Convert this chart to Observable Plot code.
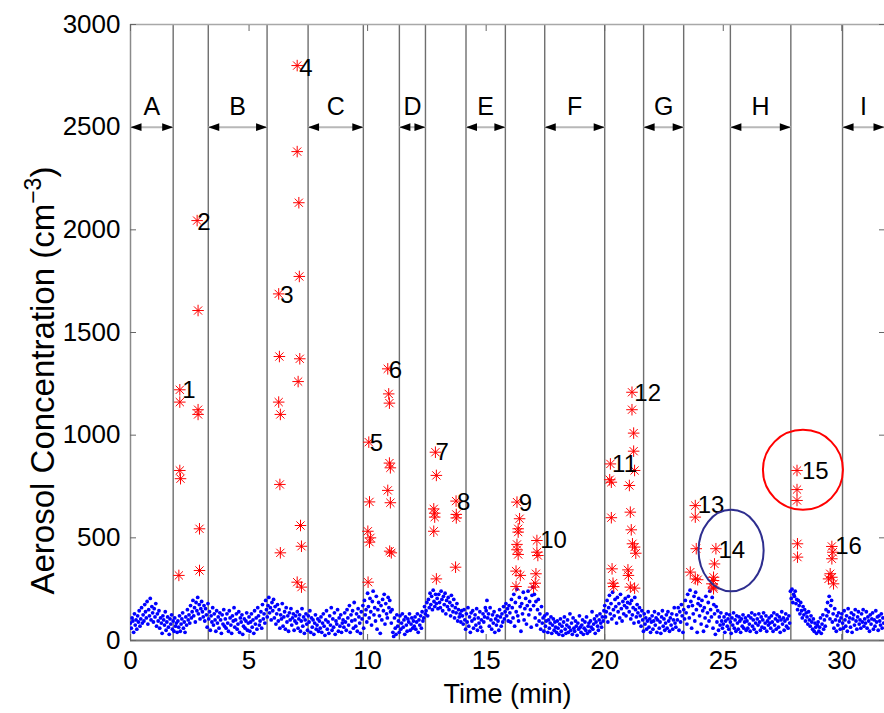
<!DOCTYPE html>
<html>
<head>
<meta charset="utf-8">
<script src="https://cdn.jsdelivr.net/npm/d3@7"></script>
<script src="https://cdn.jsdelivr.net/npm/@observablehq/plot@0.6"></script>
<style>
  html, body { margin: 0; padding: 0; background: #fff; }
  #chart { width: 884px; height: 713px; overflow: hidden; }
</style>
</head>
<body>
<div id="chart"></div>
<script>
// Background aerosol concentration, one reading every 2 s (30 per minute), cm^-3
const sampleStepMin = 2 / 60;
const blueConc = [
  85,60,110,95,40,130,75,100,55,120,90,145,70,105,160,85,125,95,175,140,110,190,80,150,120,205,100,165,135,90,
  155,115,180,70,130,95,145,60,110,85,35,120,100,75,140,50,90,115,65,30,105,80,125,55,95,45,110,70,85,40,
  95,65,120,45,80,105,135,60,90,40,115,75,150,100,125,85,170,110,140,195,120,160,90,185,145,210,130,175,105,155,
  190,140,115,170,95,155,125,65,180,105,140,50,120,90,160,75,130,100,45,145,85,115,60,135,100,35,125,80,150,70,
  105,60,130,85,45,145,110,75,35,120,95,160,65,100,130,55,80,140,40,110,90,125,30,70,105,60,95,135,50,85,
  115,45,90,130,65,100,35,145,80,110,55,160,120,75,95,140,60,175,105,130,85,195,150,115,170,210,135,160,100,185,
  145,200,110,165,80,130,175,95,150,60,125,105,180,70,115,140,55,160,90,120,45,135,100,155,75,110,130,50,95,120,
  85,140,60,105,125,45,95,155,70,115,35,100,130,80,50,120,90,145,40,110,65,100,30,85,125,55,75,105,45,95,
  60,115,40,85,130,70,25,100,145,55,90,35,120,75,160,50,105,65,135,30,95,80,150,45,110,70,125,40,85,100,
  65,135,90,50,150,110,75,170,40,125,95,145,60,185,100,70,130,45,155,115,85,35,140,105,170,60,195,125,150,90,
  230,165,110,205,140,75,190,240,125,160,95,215,55,150,185,120,35,170,100,200,145,225,80,180,130,110,210,160,195,140,
  85,150,40,20,110,60,30,125,70,95,40,120,55,85,130,65,100,30,115,75,45,105,90,130,50,80,110,60,95,70,
  115,55,90,130,40,100,75,120,60,140,95,110,165,130,145,185,120,200,160,230,175,215,150,245,190,165,225,180,205,155,
  225,185,160,240,200,145,215,175,230,130,195,165,210,150,185,120,220,170,140,200,110,160,135,180,95,150,115,130,90,145,
  120,80,150,100,55,130,90,160,70,115,40,135,95,145,60,105,125,75,155,50,110,85,140,65,100,45,130,90,115,160,
  145,195,110,130,70,160,100,55,125,85,140,40,105,75,120,95,50,150,115,70,130,90,165,105,140,180,120,155,95,170,
  135,90,200,160,110,225,70,185,140,250,120,95,210,165,45,180,130,235,100,155,205,80,170,240,125,190,150,65,220,260,
  170,225,110,190,75,150,200,95,130,55,165,85,110,45,120,70,95,130,40,100,60,85,115,35,75,105,50,90,65,40,
  95,60,30,80,105,45,70,25,90,115,55,35,75,100,40,65,130,50,85,30,110,60,45,95,70,25,85,55,120,65,
  40,75,100,30,60,90,50,115,35,70,85,45,95,65,140,55,80,105,35,90,120,70,50,100,130,85,65,115,95,145,
  170,115,140,195,90,160,220,130,180,105,235,150,120,200,165,85,210,140,180,110,225,155,95,190,130,170,205,120,160,185,
  215,140,180,105,195,125,160,85,210,150,115,175,135,90,160,120,70,145,100,45,130,80,110,55,95,140,65,105,40,90,
  120,55,95,140,75,110,40,100,130,60,90,35,115,145,70,105,50,85,125,60,140,95,45,110,75,130,55,100,160,85,
  65,125,100,160,50,140,90,175,120,40,150,105,195,135,80,225,165,110,245,190,60,170,130,215,95,235,150,40,180,205,
  120,170,80,195,145,45,160,110,215,70,135,185,95,240,150,115,210,60,175,130,30,165,90,145,50,115,75,135,95,60,
  80,115,40,95,130,70,105,55,125,90,35,110,75,135,60,100,45,120,85,55,115,95,40,105,70,125,60,90,110,50,
  95,60,120,80,45,110,135,70,100,55,125,85,40,105,75,130,90,50,115,65,100,135,60,85,120,45,95,75,110,85,
  60,120,90,45,135,75,105,55,125,95,65,115,40,100,140,80,110,50,95,130,70,105,60,120,85,240,205,250,185,225,
  215,240,180,200,150,195,170,130,185,145,110,165,125,150,95,135,115,80,140,100,70,120,90,55,105,45,85,65,35,75,
  90,45,65,110,35,80,125,55,100,70,150,120,185,140,215,105,170,195,90,130,60,155,100,45,120,75,135,95,55,110,
  130,85,60,145,100,70,120,45,155,90,110,65,135,40,105,125,75,150,95,55,115,140,80,100,60,130,90,150,70,105,
  85,140,60,115,95,45,125,80,105,135,55,100,70,145,90,115,50,120,95,75,130,60,110,85
];

// Event readings (red asterisks): time (min) and concentration (cm^-3)
const eventTime = [
  2.08,2.08,2.08,2.11,2.04,
  2.81,2.85,2.85,2.85,2.91,2.91,
  6.25,6.28,6.25,6.32,6.30,6.32,
  7.03,7.03,7.10,7.12,7.14,7.07,7.17,7.21,7.03,7.21,
  10.05,10.08,10.01,10.12,10.08,10.02,
  10.85,10.89,10.92,10.92,10.96,10.85,10.96,10.93,11.00,
  12.86,12.90,12.79,12.83,12.83,12.79,12.90,
  13.73,13.74,13.74,13.71,
  16.30,16.41,16.35,16.35,16.30,16.30,16.35,16.26,16.44,16.26,
  17.14,17.14,17.18,17.10,17.07,17.00,
  20.24,20.21,20.28,20.28,20.31,20.35,20.38,
  21.15,21.15,21.22,21.22,21.26,21.04,21.08,21.12,21.17,21.26,21.31,20.98,21.00,21.08,21.26,
  23.82,23.82,23.86,23.61,23.82,23.92,
  24.69,24.63,24.59,24.52,24.59,24.59,24.59,
  28.11,28.11,28.11,28.13,28.13,
  29.58,29.62,29.58,29.51,29.58,29.65,29.44
];
const eventConc = [
  1221,1161,828,788,317,
  2045,1607,1124,1101,544,341,
  1688,1383,1161,1101,760,427,
  2800,2381,2132,1773,1372,1261,560,459,284,260,
  966,675,532,500,479,284,
  1323,1201,1156,864,841,731,671,435,427,
  917,804,641,620,601,532,300,
  679,614,597,357,
  674,593,544,528,468,442,419,338,317,263,
  487,430,414,325,279,260,
  860,783,771,598,349,279,263,
  1209,1124,1010,922,828,755,625,539,471,455,425,344,317,260,255,
  657,601,447,333,300,296,
  447,373,308,276,260,292,252,
  828,735,682,471,406,
  458,430,398,325,308,276,300
];

// Event numbers and where they are written
const eventLabel = ["1","2","3","4","5","6","7","8","9","10","11","12","13","14","15","16"];
const eventLabelTime = [2.18,2.81,6.32,7.12,10.09,10.89,12.86,13.77,16.37,17.28,20.31,21.25,23.92,24.80,28.32,29.72];
const eventLabelConc = [1218,2037,1680,2789,958,1318,917,674,669,490,857,1205,657,438,825,458];

// Boundaries of the measurement phases (vertical lines, min)
const phaseLines = [1.80,3.28,5.76,7.49,9.82,11.34,12.44,14.15,15.81,17.47,20.00,21.64,23.33,25.30,27.85,30.03];
const phaseName = ["A","B","C","D","E","F","G","H","I"];
const phaseStart = [0,3.28,7.49,11.34,14.15,17.47,21.64,25.30,30.03];
const phaseEnd = [1.80,5.76,9.82,12.44,15.81,20.00,23.33,27.85,31.8];
const arrowLevel = 2500;
const phaseNameLevel = 2596;

// Highlighted events
const highlightTime = [28.36, 25.33];
const highlightConc = [831, 438];
const highlightColor = ["#ff0000", "#2e2e8f"];

const xTicks = [0,5,10,15,20,25,30];
const yTicks = [0,500,1000,1500,2000,2500,3000];

const background = blueConc.map((c, i) => ({t: i * sampleStepMin, c}));
const events = eventTime.map((t, i) => ({t, c: eventConc[i]}));
const eventLabels = eventLabel.map((s, i) => ({s, t: eventLabelTime[i], c: eventLabelConc[i]}));
const phases = phaseName.map((name, i) => ({name, start: phaseStart[i], end: phaseEnd[i]}));

// Filled arrowhead with its tip at the anchor point, pointing right
const arrowHead = {
  draw(context) {
    const L = 11, h = 3.8;
    context.moveTo(0, 0);
    context.lineTo(-L, -h);
    context.lineTo(-L, h);
    context.closePath();
  }
};
// Upright ellipse, slightly narrower than tall
const ellipse = {
  draw(context, size) {
    const ry = Math.sqrt(size / Math.PI), rx = ry * 0.8, k = 0.5523;
    context.moveTo(rx, 0);
    context.bezierCurveTo(rx, ry * k, rx * k, ry, 0, ry);
    context.bezierCurveTo(-rx * k, ry, -rx, ry * k, -rx, 0);
    context.bezierCurveTo(-rx, -ry * k, -rx * k, -ry, 0, -ry);
    context.bezierCurveTo(rx * k, -ry, rx, -ry * k, rx, 0);
    context.closePath();
  }
};

const axisGray = "#666";
const font = "'Liberation Sans', Arial, Helvetica, sans-serif";

const chart = Plot.plot({
  width: 884,
  height: 713,
  marginLeft: 130,
  marginRight: 0,
  marginTop: 24,
  marginBottom: 73,
  style: {fontFamily: font, fontSize: "26px", color: "#000", background: "#fff"},
  x: {domain: [0, 31.8]},
  y: {domain: [0, 3000]},
  marks: [
    // phase boundaries
    Plot.ruleX(phaseLines, {stroke: "#6e6e6e", strokeWidth: 1.4}),
    // frame
    Plot.ruleY([3000], {stroke: "#a8a8a8", strokeWidth: 1.5}),
    Plot.ruleY([0], {stroke: "#777", strokeWidth: 2}),
    Plot.ruleX([0], {stroke: "#8a8a8a", strokeWidth: 1.5}),
    // inward ticks on all sides
    Plot.axisY({anchor: "left", ticks: yTicks, tickSize: 6, dx: 6, fill: "none", stroke: axisGray, label: null}),
    Plot.axisY({anchor: "right", ticks: yTicks, tickSize: 6, dx: -6, fill: "none", stroke: axisGray, label: null}),
    Plot.axisX({anchor: "bottom", ticks: xTicks, tickSize: 6, dy: -6, fill: "none", stroke: axisGray, label: null}),
    Plot.axisX({anchor: "top", ticks: xTicks, tickSize: 6, dy: 6, fill: "none", stroke: axisGray, label: null}),
    // tick labels
    Plot.axisY({anchor: "left", ticks: yTicks, tickFormat: "d", tickSize: 0, tickPadding: 10, fontSize: 26, label: null}),
    Plot.axisX({anchor: "bottom", ticks: xTicks, tickFormat: "d", tickSize: 0, tickPadding: 10, fontSize: 26, label: null}),
    // background readings
    Plot.dot(background, {x: "t", y: "c", r: 1.9, fill: "#0000ff", stroke: "none", clip: true}),
    // phase arrows
    Plot.link(phases, {x1: "start", x2: "end", y1: arrowLevel, y2: arrowLevel, stroke: "#b8b8b8", strokeWidth: 2}),
    Plot.dot(phases, {x: "end", y: arrowLevel, symbol: arrowHead, fill: "#000", stroke: "none"}),
    Plot.dot(phases, {x: "start", y: arrowLevel, symbol: arrowHead, rotate: 180, fill: "#000", stroke: "none"}),
    Plot.text(phases, {x: (d) => (d.start + d.end) / 2, y: phaseNameLevel, text: "name", fontSize: 25, fill: "#000"}),
    // event readings
    Plot.dot(events, {x: "t", y: "c", r: 3.8, symbol: "plus", stroke: "#ff0000", strokeWidth: 1, fill: "none"}),
    Plot.dot(events, {x: "t", y: "c", r: 3.8, symbol: "times", stroke: "#ff0000", strokeWidth: 1, fill: "none"}),
    Plot.text(eventLabels, {x: "t", y: "c", text: "s", textAnchor: "start", fontSize: 24, fill: "#000"}),
    // highlighted events
    Plot.dot([0], {x: () => highlightTime[0], y: () => highlightConc[0], r: 40, stroke: highlightColor[0], strokeWidth: 2, fill: "none"}),
    Plot.dot([0], {x: () => highlightTime[1], y: () => highlightConc[1], r: 40.7, symbol: ellipse, stroke: highlightColor[1], strokeWidth: 2, fill: "none"}),
    // axis titles
    Plot.text(["Time (min)"], {frameAnchor: "bottom", text: (d) => d, lineAnchor: "middle", textAnchor: "middle", dy: 54, fontSize: 27, fill: "#000"}),
    Plot.text(["Aerosol Concentration (cm"], {frameAnchor: "left", y: () => 1266, text: (d) => d, rotate: -90, textAnchor: "middle", lineAnchor: "middle", dx: -87, fontSize: 33, fill: "#000", className: "ytitle"})
  ]
});

// superscript exponent on the concentration unit
const title = chart.querySelector("g.ytitle text");
if (title) {
  const base = title.textContent;
  title.textContent = "";
  const ns = "http://www.w3.org/2000/svg";
  const t1 = document.createElementNS(ns, "tspan");
  t1.textContent = base;
  const t2 = document.createElementNS(ns, "tspan");
  t2.textContent = "\u22123";
  t2.setAttribute("font-size", "23");
  t2.setAttribute("dy", "-13");
  const t3 = document.createElementNS(ns, "tspan");
  t3.textContent = ")";
  t3.setAttribute("dy", "13");
  title.append(t1, t2, t3);
}

document.getElementById("chart").append(chart);
</script>
</body>
</html>
